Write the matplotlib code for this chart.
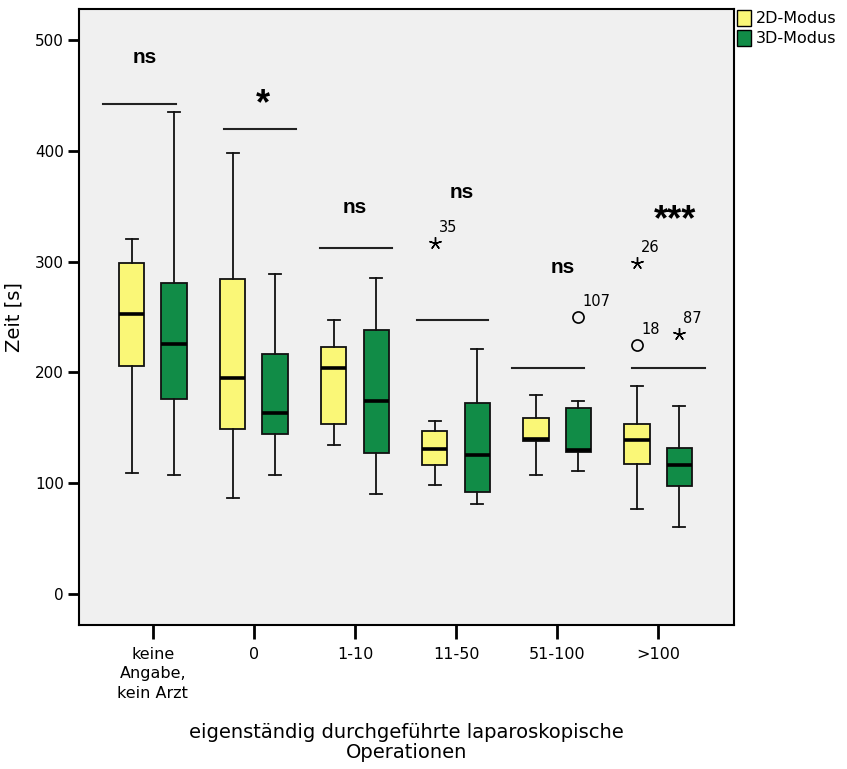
import matplotlib
matplotlib.use('Agg')
import matplotlib.pyplot as plt
from matplotlib.patches import Patch

# Groups of self-performed laparoscopic operations
categories = ['keine\nAngabe,\nkein Arzt', '0', '1-10', '11-50', '51-100', '>100']

# Box statistics per group (seconds): whisker low, Q1, median, Q3, whisker high
stats_2d = {
    'whislo': [109, 87, 134, 98, 107, 77],
    'q1': [206, 149, 153, 116, 138, 117],
    'med': [253, 195, 204, 131, 140, 139],
    'q3': [299, 284, 223, 147, 159, 153],
    'whishi': [320, 398, 247, 156, 180, 188],
}
stats_3d = {
    'whislo': [107, 107, 90, 81, 111, 60],
    'q1': [176, 144, 127, 92, 128, 97],
    'med': [226, 163, 174, 125, 130, 116],
    'q3': [281, 217, 238, 172, 168, 132],
    'whishi': [435, 289, 285, 221, 174, 170],
}

# Outliers: group index, mode, value, case number, kind (circle = outlier, star = extreme)
outlier_group = [3, 4, 5, 5, 5]
outlier_mode = ['2D', '3D', '2D', '2D', '3D']
outlier_value = [317, 250, 299, 225, 235]
outlier_case = ['35', '107', '26', '18', '87']
outlier_kind = ['star', 'circle', 'star', 'circle', 'star']

# Significance per group and the height of the bracket line (seconds)
sig_labels = ['ns', '*', 'ns', 'ns', 'ns', '***']
sig_line_y = [442, 420, 312, 247, 204, 204]
sig_text_y = [484, 448, 349, 362, 295, 343]

COLOR_2D = '#FAF777'
COLOR_3D = '#118C47'
BG = '#F0F0F0'


def make_stats(stats):
    out = []
    for i in range(len(categories)):
        out.append({k: stats[k][i] for k in ['whislo', 'q1', 'med', 'q3', 'whishi']})
        out[-1]['fliers'] = []
    return out


def draw_boxes(ax, stats, offset, color):
    positions = [i + offset for i in range(len(categories))]
    bp = ax.bxp(make_stats(stats), positions=positions, widths=0.25,
                capwidths=0.12, patch_artist=True, showfliers=False,
                boxprops=dict(facecolor=color, edgecolor='#111111', linewidth=1.3),
                medianprops=dict(color='black', linewidth=2.6, solid_capstyle='butt'),
                whiskerprops=dict(color='#111111', linewidth=1.3),
                capprops=dict(color='#111111', linewidth=1.3))
    return bp


fig = plt.figure(figsize=(8.47, 7.69), dpi=100)
ax = fig.add_axes([0.0933, 0.1873, 0.7733, 0.801])
ax.set_facecolor(BG)

draw_boxes(ax, stats_2d, -0.21, COLOR_2D)
draw_boxes(ax, stats_3d, 0.21, COLOR_3D)

# Outliers with case numbers
for g, mode, val, case, kind in zip(outlier_group, outlier_mode, outlier_value,
                                    outlier_case, outlier_kind):
    x = g + (-0.21 if mode == '2D' else 0.21)
    if kind == 'star':
        ax.plot(x, val, marker=(5, 2, 0), markersize=9, color='black',
                markeredgewidth=1.0)
    else:
        ax.plot(x, val, marker='o', markersize=8, markerfacecolor='none',
                markeredgecolor='black', markeredgewidth=1.2)
    ax.text(x + 0.04, val + 7, case, fontsize=10.5, ha='left', va='bottom')

# Significance brackets and labels
line_offsets = [(-0.49, 0.23), (-0.30, 0.42), (-0.35, 0.37),
                (-0.39, 0.32), (-0.45, 0.27), (-0.26, 0.46)]
text_offsets = [-0.08, 0.09, 0.0, 0.06, 0.06, 0.17]
for i, (lab, ly, ty) in enumerate(zip(sig_labels, sig_line_y, sig_text_y)):
    x0, x1 = line_offsets[i]
    ax.plot([i + x0, i + x1], [ly, ly], color='#222222', linewidth=1.5)
    if lab.startswith('*'):
        # asterisks sit high in the glyph box, so pull them down a bit
        ax.text(i + text_offsets[i], ty - 6, lab, fontsize=26, fontweight='bold',
                ha='center', va='center', family='Liberation Sans')
    else:
        ax.text(i + text_offsets[i], ty, lab, fontsize=15, fontweight='bold',
                ha='center', va='center', family='Liberation Sans')

ax.set_xlim(-0.73, 5.75)
ax.set_ylim(-28, 528)
ax.set_yticks([0, 100, 200, 300, 400, 500])
ax.set_xticks(range(len(categories)))
ax.set_xticklabels(categories, linespacing=1.35)
ax.tick_params(axis='y', length=8, width=2, labelsize=11, pad=3)
ax.tick_params(axis='x', length=10, width=2, labelsize=11.5, pad=6)
for spine in ax.spines.values():
    spine.set_linewidth(1.5)

ax.set_ylabel('Zeit [s]', fontsize=14, labelpad=8)
ax.set_xlabel('eigenständig durchgeführte laparoskopische\nOperationen',
              fontsize=14, labelpad=16, linespacing=1.1)

handles = [Patch(facecolor=COLOR_2D, edgecolor='black', label='2D-Modus'),
           Patch(facecolor=COLOR_3D, edgecolor='black', label='3D-Modus')]
fig.legend(handles=handles, loc='upper left', bbox_to_anchor=(0.862, 0.995),
           frameon=False, fontsize=11.5, handlelength=0.9, handleheight=1.1,
           handletextpad=0.3, labelspacing=0.25, borderaxespad=0)

plt.savefig('out.png', dpi=100)
